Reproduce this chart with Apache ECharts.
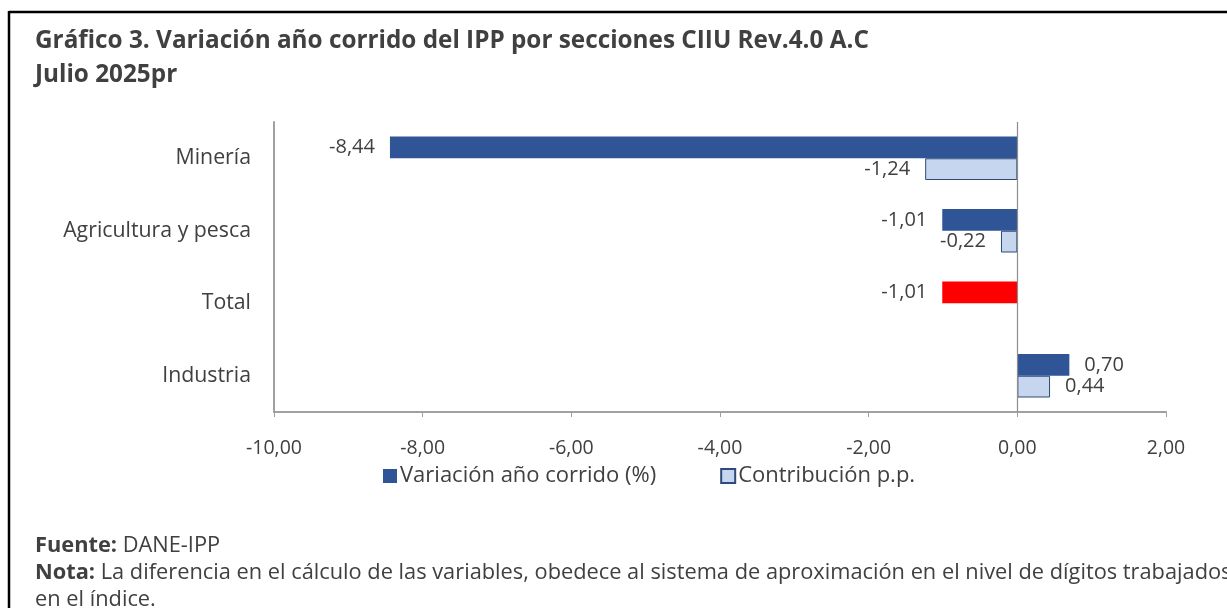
<!DOCTYPE html>
<html>
<head>
<meta charset="utf-8">
<script src="https://cdn.jsdelivr.net/npm/echarts@6/dist/echarts.min.js"></script>
<style>
html,body{margin:0;padding:0;background:#fff;}
#chart{width:1227px;height:608px;}
</style>
</head>
<body>
<div id="chart"></div>
<script>
const categories = ['Minería', 'Agricultura y pesca', 'Total', 'Industria'];
const variacion = [-8.44, -1.01, -1.01, 0.70];
const contribucion = [-1.24, -0.22, null, 0.44];
const totalIndex = 2;
const xTicks = [-10, -8, -6, -4, -2, 0, 2];

const DARK = '#2f5597';
const LIGHT = '#c5d6ee';
const RED = '#ff0000';
const TXT = '#404040';
const FONT = '"Open Sans", sans-serif';

const fmt = v => v.toFixed(2).replace('.', ',');

const chart = echarts.init(document.getElementById('chart'), null, {renderer: 'canvas'});

const varData = variacion.map((v, i) => ({
  value: v,
  itemStyle: i === totalIndex ? {color: RED} : undefined,
  label: {position: v < 0 ? 'left' : 'right'}
}));
const conData = contribucion.map(v => v === null ? '-' : ({
  value: v,
  label: {position: v < 0 ? 'left' : 'right'}
}));

chart.setOption({
  backgroundColor: '#fff',
  animation: false,
  textStyle: {fontFamily: FONT},
  graphic: [
    {type: 'line', shape: {x1: 9, y1: 12, x2: 1227, y2: 12}, style: {stroke: '#000', lineWidth: 2.5}},
    {type: 'line', shape: {x1: 9, y1: 11, x2: 9, y2: 608}, style: {stroke: '#000', lineWidth: 2.5}}
  ],
  title: [
    {
      text: 'Gráfico 3. Variación año corrido del IPP por secciones CIIU Rev.4.0 A.C\nJulio 2025pr',
      left: 35, top: 24, padding: 0,
      textStyle: {fontFamily: FONT, fontWeight: 'bold', fontSize: 24.3, color: TXT, lineHeight: 34}
    },
    {
      text: '{b|Fuente:} DANE-IPP\n{b|Nota:} La diferencia en el cálculo de las variables, obedece al sistema de aproximación en el nivel de dígitos trabajados\nen el índice.',
      left: 35, top: 532, padding: 0,
      textStyle: {fontFamily: FONT, fontSize: 21.8, fontWeight: 'normal', color: TXT, lineHeight: 27,
        rich: {b: {fontFamily: FONT, fontSize: 21.8, fontWeight: 'bold', color: TXT, lineHeight: 27}}}
    }
  ],
  legend: {
    data: ['Variación año corrido (%)', 'Contribución p.p.'],
    top: 465, left: 383, padding: 0,
    icon: 'rect', itemWidth: 14, itemHeight: 14, itemGap: 64,
    textStyle: {fontFamily: FONT, fontSize: 22, color: TXT, padding: [0, 0, 0, -2]}
  },
  grid: {left: 274, right: 61, top: 122, bottom: 196, containLabel: false},
  xAxis: {
    type: 'value', min: -10, max: 2, interval: 2,
    axisLine: {show: true, lineStyle: {color: '#a0a0a0', width: 2}},
    axisTick: {show: true, length: 5, lineStyle: {color: '#a0a0a0'}},
    splitLine: {show: false},
    axisLabel: {
      fontFamily: FONT, fontSize: 19.5, color: TXT, margin: 26,
      formatter: v => xTicks.includes(v) ? fmt(v) : ''
    }
  },
  yAxis: {
    type: 'category', data: categories, inverse: true,
    axisLine: {show: true, onZero: false, lineStyle: {color: '#a0a0a0', width: 2}},
    axisTick: {show: false},
    axisLabel: {fontFamily: FONT, fontSize: 21.3, color: TXT, margin: 23}
  },
  series: [
    {
      name: 'Variación año corrido (%)', type: 'bar',
      data: varData, barGap: '0%', barCategoryGap: '40%',
      itemStyle: {color: DARK},
      label: {show: true, distance: 15, fontFamily: FONT, fontSize: 20, color: TXT, formatter: p => fmt(p.value)},
      markLine: {
        silent: true, symbol: 'none', label: {show: false},
        lineStyle: {color: '#8c8c8c', width: 1.2, type: 'solid'},
        data: [{xAxis: 0}]
      }
    },
    {
      name: 'Contribución p.p.', type: 'bar',
      data: conData, barGap: '0%', barCategoryGap: '40%',
      itemStyle: {color: LIGHT, borderColor: '#2f4a78', borderWidth: 1},
      label: {show: true, distance: 15, fontFamily: FONT, fontSize: 20, color: TXT, formatter: p => fmt(p.value)}
    }
  ]
});
</script>
</body>
</html>
